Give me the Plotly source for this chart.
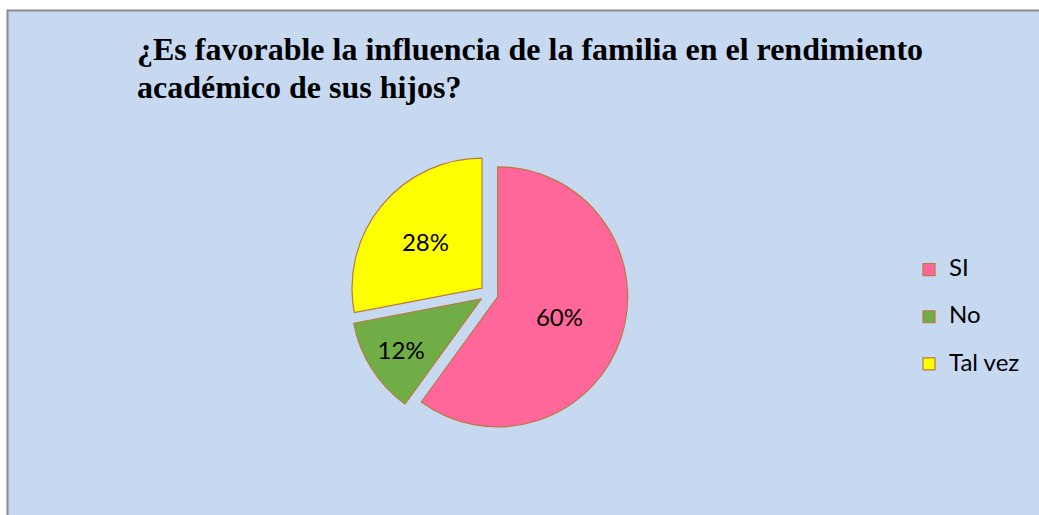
import plotly.graph_objects as go

# Survey answers and their share of responses (%)
categories = ["SI", "No", "Tal vez"]
shares = [60, 12, 28]
slice_colors = ["#FF6699", "#70AD47", "#FFFF00"]

title_lines = [
    "¿Es favorable la influencia de la familia en el rendimiento",
    "académico de sus hijos?",
]

W, H = 1039, 515
BG = "#C6D9F1"

# Pie geometry in pixels (centre, radius) and explode fraction
cx, cy, r, pull = 489, 294, 130, 0.07
half = r * (1 + pull)

# Legend entries: label at full size plus a blank line for roomier rows
legend_labels = [f"<span style='font-size:24px'>{c}</span><br> " for c in categories]

title_html = "<br>".join(f"<span style='font-size:32px'>{t}</span>" for t in title_lines)

fig = go.Figure()

fig.add_trace(go.Pie(
    labels=legend_labels,
    values=shares,
    sort=False,
    direction="clockwise",
    rotation=0,
    pull=[pull] * len(categories),
    marker=dict(colors=slice_colors, line=dict(color="#BA7A40", width=1.2)),
    textinfo="percent",
    textposition="inside",
    insidetextorientation="horizontal",
    textfont=dict(family="Lato", size=24, color="black"),
    domain=dict(
        x=[(cx - half) / W, (cx + half) / W],
        y=[(H - cy - half) / H, (H - cy + half) / H],
    ),
    hoverinfo="percent",
))

fig.update_layout(
    width=W,
    height=H,
    margin=dict(l=0, r=0, t=0, b=0),
    paper_bgcolor="white",
    plot_bgcolor="white",
    title=dict(
        text="<b>" + title_html + "</b>",
        font=dict(family="Liberation Serif", size=29, color="black"),
        x=137 / W,
        xanchor="left",
        xref="paper",
        y=1 - 60 / H,
        yanchor="top",
        yref="paper",
    ),
    legend=dict(
        x=909 / W,
        y=1 - 328 / H,
        xanchor="left",
        yanchor="middle",
        valign="top",
        font=dict(family="Lato", size=17, color="black"),
        bgcolor="rgba(0,0,0,0)",
        itemwidth=30,
    ),
    shapes=[
        dict(
            type="rect", xref="paper", yref="paper", layer="below",
            x0=7.5 / W, x1=1.01, y0=-0.01, y1=1 - 10.5 / H,
            fillcolor=BG, line=dict(color="#8C8C8C", width=2),
        )
    ],
)

fig.write_html("out.html")
